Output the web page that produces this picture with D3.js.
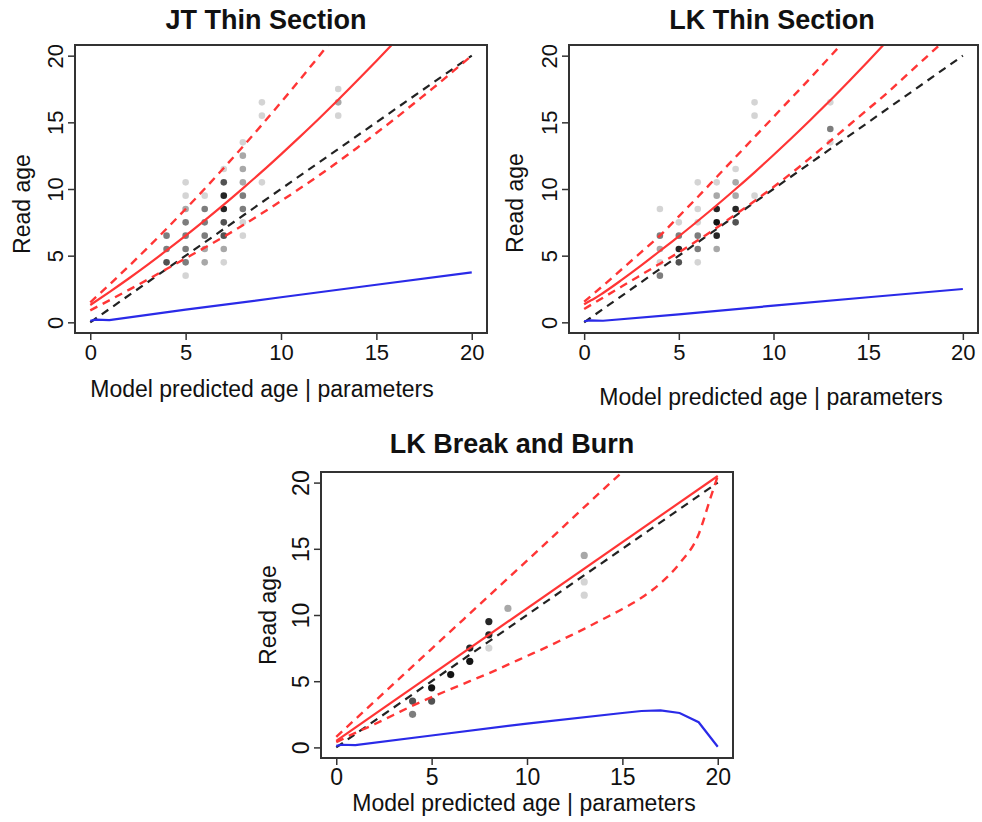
<!DOCTYPE html>
<html>
<head>
<meta charset="utf-8">
<script src="https://cdn.jsdelivr.net/npm/d3@7"></script>
<style>
  body { margin: 0; background: #fff; }
  svg { display: block; font-family: "Liberation Sans", Arial, sans-serif; }
</style>
</head>
<body>
<div id="chart"></div>
<script>
const chartWidth = 982;
const chartHeight = 822;

// axis ticks, same for every panel
const xTicks = [0, 5, 10, 15, 20];
const yTicks = [0, 5, 10, 15, 20];
const panelTitles = ["JT Thin Section", "LK Thin Section", "LK Break and Burn"];
const xLabel = "Model predicted age | parameters";
const yLabel = "Read age";

// observed read ages: [model age, read age, number of fish]
const jtPoints = [
  [4, 4.5, 4], [4, 5.5, 3], [4, 6.5, 3],
  [5, 3.5, 1], [5, 4.5, 3], [5, 5.5, 3], [5, 6.5, 3], [5, 7.5, 3], [5, 8.5, 2], [5, 9.5, 1], [5, 10.5, 1],
  [6, 4.5, 2], [6, 5.5, 2], [6, 6.5, 3], [6, 7.5, 3], [6, 8.5, 3], [6, 9.5, 1],
  [7, 4.5, 1], [7, 5.5, 2], [7, 6.5, 4], [7, 7.5, 4], [7, 8.5, 5], [7, 9.5, 5], [7, 10.5, 4], [7, 11.5, 1],
  [8, 6.5, 1], [8, 7.5, 1], [8, 8.5, 3], [8, 9.5, 3], [8, 10.5, 2], [8, 11.5, 2], [8, 12.5, 2], [8, 13.5, 1],
  [9, 10.5, 1], [9, 15.5, 1], [9, 16.5, 1],
  [13, 15.5, 1], [13, 16.5, 2], [13, 17.5, 1]
];
const lkPoints = [
  [4, 3.5, 3], [4, 4.5, 1], [4, 5.5, 2], [4, 6.5, 3], [4, 8.5, 1],
  [5, 4.5, 4], [5, 5.5, 5], [5, 6.5, 3], [5, 7.5, 1],
  [6, 4.5, 1], [6, 5.5, 3], [6, 6.5, 3], [6, 7.5, 1], [6, 8.5, 1], [6, 10.5, 1],
  [7, 5.5, 2], [7, 6.5, 5], [7, 7.5, 6], [7, 8.5, 5], [7, 9.5, 2], [7, 10.5, 1],
  [8, 7.5, 4], [8, 8.5, 5], [8, 9.5, 2], [8, 10.5, 2], [8, 11.5, 1],
  [9, 9.5, 1], [9, 15.5, 1], [9, 16.5, 1],
  [13, 13.5, 1], [13, 14.5, 3], [13, 16.5, 1]
];
const bbPoints = [
  [4, 2.5, 3], [4, 3.5, 4],
  [5, 3.5, 4], [5, 4.5, 6],
  [6, 5.5, 6],
  [7, 6.5, 6], [7, 7.5, 5],
  [8, 7.5, 1], [8, 8.5, 5], [8, 9.5, 5],
  [9, 10.5, 2],
  [13, 11.5, 1], [13, 12.5, 1], [13, 14.5, 2]
];

// 1:1 reference line
const oneToOne = [[0, 0], [20, 20]];

// JT thin section: fitted read age, its interval, and the sd (blue)
const jtFit = [[0, 1.3], [1, 2.27], [2, 3.27], [3, 4.31], [4, 5.39], [5, 6.5], [6, 7.65], [7, 8.83], [8, 10.05],
  [9, 11.3], [10, 12.6], [11, 13.93], [12, 15.29], [13, 16.69], [14, 18.13], [15, 19.6], [16, 21.1]];
const jtUpper = [[0, 1.5], [1, 2.82], [2, 4.18], [3, 5.58], [4, 7.02], [5, 8.5], [6, 10.02], [7, 11.58], [8, 13.18],
  [9, 14.82], [10, 16.5], [11, 18.22], [12, 19.98], [13, 21.78]];
const jtLower = [[0, 0.9], [1, 1.65], [2, 2.42], [3, 3.2], [4, 4.0], [5, 4.8], [6, 5.6], [7, 6.42], [8, 7.28],
  [9, 8.18], [10, 9.1], [11, 10.05], [12, 11.03], [13, 12.05], [14, 13.1], [15, 14.2], [16, 15.3], [17, 16.45],
  [18, 17.6], [19, 18.8], [20, 20.0]];
const jtSd = [[0, 0.12], [0.3, 0.2], [1, 0.17], [5, 0.95], [10, 1.88], [15, 2.82], [20, 3.75]];

// LK thin section
const lkFit = [[0, 1.35], [0.3, 1.6], [0.5, 1.75], [1, 2.2], [2, 3.2], [3, 4.25], [4, 5.35], [5, 6.45], [6, 7.6], [7, 8.78],
  [8, 10.0], [9, 11.25], [10, 12.55], [11, 13.88], [12, 15.25], [13, 16.65], [14, 18.1], [15, 19.58], [16, 21.1]];
const lkUpper = [[0, 1.55], [1, 2.75], [2, 4.0], [3, 5.25], [4, 6.5], [5, 7.95], [6, 9.4], [7, 10.9], [8, 12.4],
  [9, 13.9], [10, 15.4], [11, 16.9], [12, 18.4], [13, 19.95], [14, 21.5]];
const lkLower = [[0, 1.0], [1, 1.85], [2, 2.7], [3, 3.55], [4, 4.4], [5, 5.25], [6, 6.15], [7, 7.1], [8, 8.1],
  [9, 9.1], [10, 10.15], [11, 11.25], [12, 12.4], [13, 13.6], [14, 14.8], [15, 16.0], [16, 17.2], [17, 18.5],
  [18, 19.8], [19, 21.1]];
const lkSd = [[0, 0.08], [0.3, 0.15], [1, 0.12], [5, 0.6], [10, 1.25], [15, 1.88], [20, 2.5]];

// LK break and burn
const bbFit = [[0, 0.5], [20, 20.5]];
const bbUpper = [[0, 0.8], [5, 7.45], [10, 14.1], [15, 20.8], [16, 22.1]];
const bbLower = [[0, 0.4], [1, 1.1], [2, 1.75], [3, 2.45], [4, 3.15], [5, 3.8], [6, 4.4], [7, 5.0], [8, 5.6],
  [9, 6.25], [10, 6.9], [11, 7.55], [12, 8.25], [13, 8.95], [14, 9.7], [15, 10.45], [16, 11.3], [17, 12.4],
  [18, 13.9], [19, 16.1], [19.6, 18.75], [20, 20.5]];
const bbSd = [[0, 0.12], [0.3, 0.2], [1, 0.17], [5, 0.9], [10, 1.8], [15, 2.6], [16, 2.75], [17, 2.8],
  [18, 2.6], [19, 1.9], [20, 0.05]];

var svg = d3.select("#chart")
  .append("svg")
  .attr("width", chartWidth)
  .attr("height", chartHeight);

var panels = [
  { id: "jt", title: panelTitles[0], box: {left: 75, right: 487, top: 45, bottom: 333},
    titleX: 266, titleY: 29, xTitleX: 262, xTitleY: 397, yTitleX: 30, yTitleY: 204, fs: 22, pr: 3.3,
    points: jtPoints, fit: jtFit, upper: jtUpper, lower: jtLower, sd: jtSd },
  { id: "lk", title: panelTitles[1], box: {left: 569, right: 978, top: 45, bottom: 333},
    titleX: 772, titleY: 29, xTitleX: 771, xTitleY: 405, yTitleX: 523, yTitleY: 203, fs: 22, pr: 3.3,
    points: lkPoints, fit: lkFit, upper: lkUpper, lower: lkLower, sd: lkSd },
  { id: "bb", title: panelTitles[2], box: {left: 321, right: 733, top: 472, bottom: 758},
    titleX: 512, titleY: 453, xTitleX: 524, xTitleY: 811, yTitleX: 276, yTitleY: 615, fs: 23, pr: 3.6,
    points: bbPoints, fit: bbFit, upper: bbUpper, lower: bbLower, sd: bbSd }
];

function drawPanel(p) {
  var b = p.box;
  // R style: 4% padding around 0..20
  var xScale = d3.scaleLinear().domain([-0.8, 20.8]).range([b.left, b.right]);
  var yScale = d3.scaleLinear().domain([-0.8, 20.8]).range([b.bottom, b.top]);

  var g = svg.append("g");

  g.append("clipPath")
    .attr("id", "clip-" + p.id)
    .append("rect")
    .attr("x", b.left).attr("y", b.top)
    .attr("width", b.right - b.left).attr("height", b.bottom - b.top);

  var plot = g.append("g").attr("clip-path", "url(#clip-" + p.id + ")");

  // points, darker where several fish share a value
  plot.selectAll("circle")
    .data(p.points)
    .enter().append("circle")
    .attr("cx", d => xScale(d[0]))
    .attr("cy", d => yScale(d[1]))
    .attr("r", p.pr)
    .attr("fill", "#000")
    .attr("fill-opacity", d => Math.min(0.92, 0.17 * d[2]));

  var smooth = d3.line().x(d => xScale(d[0])).y(d => yScale(d[1])).curve(d3.curveMonotoneX);
  var straight = d3.line().x(d => xScale(d[0])).y(d => yScale(d[1]));

  plot.append("path").datum(oneToOne)
    .attr("d", straight).attr("fill", "none")
    .attr("stroke", "#222").attr("stroke-width", 2.2).attr("stroke-dasharray", "8,6");

  [p.upper, p.lower].forEach(function(s) {
    plot.append("path").datum(s)
      .attr("d", smooth).attr("fill", "none")
      .attr("stroke", "#ff3535").attr("stroke-width", 2.4).attr("stroke-dasharray", "8,6");
  });

  plot.append("path").datum(p.fit)
    .attr("d", smooth).attr("fill", "none")
    .attr("stroke", "#ff3535").attr("stroke-width", 2.2);

  plot.append("path").datum(p.sd)
    .attr("d", straight).attr("fill", "none")
    .attr("stroke", "#2a2ae8").attr("stroke-width", 2.2);

  // box
  g.append("rect")
    .attr("x", b.left).attr("y", b.top)
    .attr("width", b.right - b.left).attr("height", b.bottom - b.top)
    .attr("fill", "none").attr("stroke", "#333").attr("stroke-width", 2);

  var xAxis = d3.axisBottom(xScale).tickValues(xTicks).tickSize(7).tickPadding(4).tickSizeOuter(0);
  var xg = g.append("g")
    .attr("transform", "translate(0," + b.bottom + ")")
    .call(xAxis);
  xg.select(".domain").remove();
  xg.selectAll("line").attr("stroke", "#333").attr("stroke-width", 1.5);
  xg.selectAll("text").attr("font-size", p.fs).attr("fill", "#111")
    .attr("font-family", "Liberation Sans, Arial, sans-serif");

  var yAxis = d3.axisLeft(yScale).tickValues(yTicks).tickSize(7).tickPadding(4).tickSizeOuter(0);
  var yg = g.append("g")
    .attr("transform", "translate(" + b.left + ",0)")
    .call(yAxis);
  yg.select(".domain").remove();
  yg.selectAll("line").attr("stroke", "#333").attr("stroke-width", 1.5);
  // R draws the y labels parallel to the axis
  yg.selectAll("text")
    .attr("font-size", p.fs).attr("fill", "#111")
    .attr("font-family", "Liberation Sans, Arial, sans-serif")
    .attr("x", null).attr("dy", null)
    .attr("text-anchor", "middle")
    .attr("transform", "translate(-12,0) rotate(-90)");

  svg.append("text")
    .attr("x", p.titleX).attr("y", p.titleY)
    .attr("text-anchor", "middle")
    .attr("font-size", 27).attr("font-weight", "bold").attr("fill", "#111")
    .text(p.title);

  svg.append("text")
    .attr("x", p.xTitleX).attr("y", p.xTitleY)
    .attr("text-anchor", "middle")
    .attr("font-size", 23).attr("fill", "#111")
    .text(xLabel);

  svg.append("text")
    .attr("transform", "translate(" + p.yTitleX + "," + p.yTitleY + ") rotate(-90)")
    .attr("text-anchor", "middle")
    .attr("font-size", 23).attr("fill", "#111")
    .text(yLabel);
}

panels.forEach(drawPanel);
</script>
</body>
</html>
